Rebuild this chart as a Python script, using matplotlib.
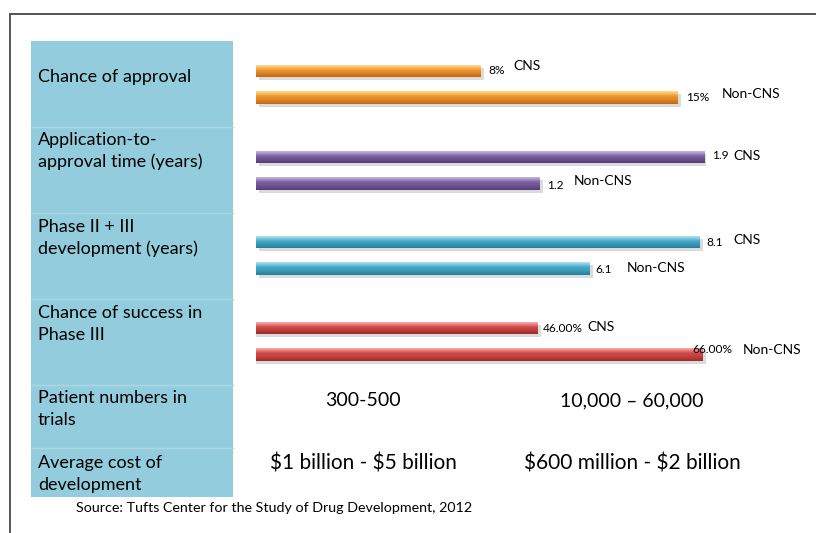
import matplotlib
matplotlib.use("Agg")
import matplotlib.pyplot as plt
import numpy as np
from matplotlib.patches import Rectangle
from matplotlib.lines import Line2D
from matplotlib.transforms import offset_copy
from matplotlib.colors import to_rgb

# ---------------- data ----------------
row_labels = ["Chance of approval",
              "Application-to-\napproval time (years)",
              "Phase II + III\ndevelopment (years)",
              "Chance of success in\nPhase III",
              "Patient numbers in\ntrials",
              "Average cost of\ndevelopment"]
series_names = ["CNS", "Non-CNS"]
approval_chance = [8, 15]          # %
approval_time = [1.9, 1.2]         # years
phase23_time = [8.1, 6.1]          # years
phase3_success = [46.00, 66.00]    # %
value_text = [["8%", "15%"], ["1.9", "1.2"], ["8.1", "6.1"], ["46.00%", "66.00%"]]
patient_numbers = ["300-500", "10,000 \u2013 60,000"]
average_cost = ["$1 billion - $5 billion", "$600 million - $2 billion"]
source = "Source: Tufts Center for the Study of Drug Development, 2012"

groups = [approval_chance, approval_time, phase23_time, phase3_success]

# ---------------- layout / style ----------------
W, H = 816, 533
FONT = ["Lato", "DejaVu Sans"]
plt.rcParams['font.family'] = FONT
plt.rcParams['text.parse_math'] = False

fig = plt.figure(figsize=(W / 100, H / 100), dpi=100)
fig.patch.set_facecolor("white")

def fx(x):
    return x / W

def fy(y):
    return 1 - y / H

# frame lines
fig.add_artist(Line2D([fx(9.5), fx(W)], [fy(14), fy(14)], color="#555555", lw=1.4))
fig.add_artist(Line2D([fx(9.5), fx(9.5)], [fy(14), fy(H)], color="#555555", lw=1.4))

# left label panel
panel = Rectangle((fx(31), fy(497)), fx(233) - fx(31), fy(41) - fy(497),
                  transform=fig.transFigure, facecolor="#93CDDD", edgecolor="none")
fig.add_artist(panel)
for sy in [127, 213, 299, 385, 448]:
    fig.add_artist(Line2D([fx(31), fx(233)], [fy(sy), fy(sy)], color="#A9D8E4", lw=1.0))

label_y = [77, 151, 238, 324, 409, 474]
for lab, ly in zip(row_labels, label_y):
    fig.text(fx(38), fy(ly), lab, ha="left", va="center", fontsize=13,
             linespacing=1.4, color="black")

# bars
colors = [("#C8661A", "#F09A30", "#FDD68A"),
          ("#553C7C", "#7E62A1", "#C2B2D8"),
          ("#25829D", "#48AACA", "#A8DEEE"),
          ("#A02C2A", "#D24C4A", "#F4A6A4")]
xlims = [(0, 16.0), (0, 1.904), (0, 8.21), (11.8, 66.4)]
cns_y = [71, 157, 242, 328]
spacing = 26.5
ax_left, ax_w = 256, 450

# label offsets (pixels from bar end): value dx, value dy, name dx, name dy
offsets = [[(7, 0, 32, 5), (8, 0, 44, 3)],
           [(7, 1, 28, 1), (7, -2, 34, 2)],
           [(6, -1, 33, 2), (5, -1, 36, 0)],
           [(5, -1, 50, 1), (-10, 5, 40, 4)]]


def blend(c1, c2, t):
    a, b = np.array(to_rgb(c1)), np.array(to_rgb(c2))
    return tuple(a + (b - a) * t)


NSTRIP = 12
for gi, (vals, (dark, mid, light), xl, cy) in enumerate(zip(groups, colors, xlims, cns_y)):
    top = cy - spacing / 2
    ax = fig.add_axes([fx(ax_left), fy(top + 2 * spacing), fx(ax_w) - fx(0),
                       2 * spacing / H])
    ax.set_xlim(*xl)
    ax.set_ylim(1.5, -0.5)
    ax.axis("off")
    h = 0.48
    ys = [0, 1]
    shadow_tr = offset_copy(ax.transData, fig=fig, x=3, y=-3, units="dots")
    for y, v in zip(ys, vals):
        ax.barh(y, v, height=h, color="#8a8a8a", alpha=0.30, transform=shadow_tr)
        sh = h / NSTRIP
        for k in range(NSTRIP):
            t = k / (NSTRIP - 1)
            if t < 0.4:
                c = blend(light, mid, t / 0.4)
            else:
                c = blend(mid, dark, (t - 0.4) / 0.6)
            yc = y - h / 2 + sh * (k + 0.5)
            ax.barh(yc, v, height=sh * 1.05, color=c, linewidth=0)
    for si, (y, v) in enumerate(zip(ys, vals)):
        vdx, vdy, ndx, ndy = offsets[gi][si]
        ax.annotate(value_text[gi][si], xy=(v, y), xytext=(vdx, vdy),
                    textcoords="offset pixels", ha="left", va="center",
                    fontsize=8.6, color="black", annotation_clip=False)
        ax.annotate(series_names[si], xy=(v, y), xytext=(ndx, ndy),
                    textcoords="offset pixels", ha="left", va="center",
                    fontsize=10, color="black", annotation_clip=False)

# text rows
for txt, cx in zip(patient_numbers, [363, 632]):
    fig.text(fx(cx), fy(401), txt, ha="center", va="center", fontsize=14, color="black")
for txt, cx in zip(average_cost, [363, 632]):
    fig.text(fx(cx), fy(464), txt, ha="center", va="center", fontsize=15, color="black")

fig.text(fx(76), fy(508), source, ha="left", va="center", fontsize=10.3, color="black")

fig.savefig("out.png", dpi=100, facecolor="white")
